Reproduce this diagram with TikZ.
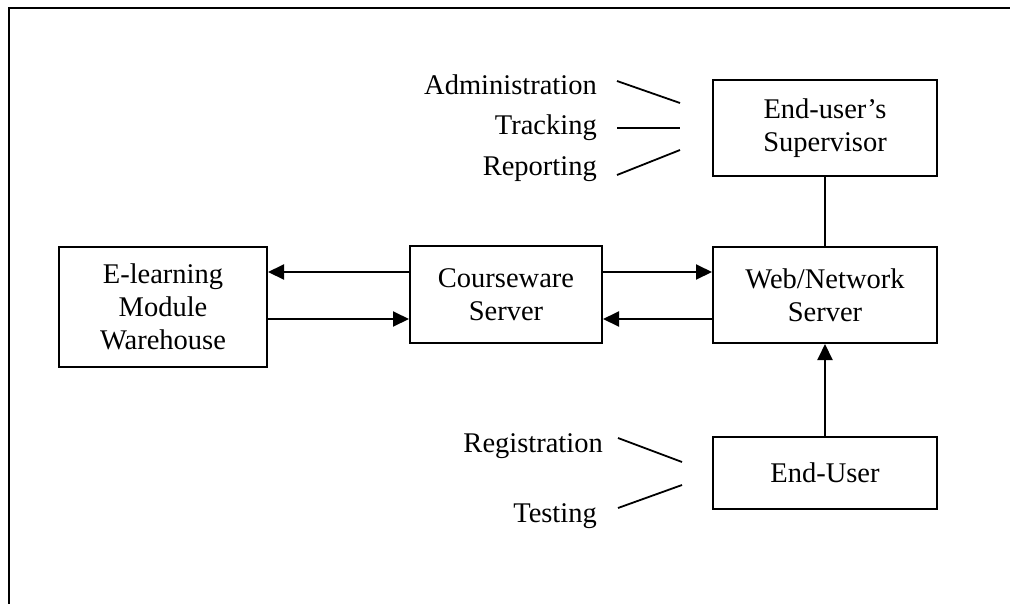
\documentclass[tikz,border=0pt]{standalone}
\usepackage{fontspec}
\setmainfont{Liberation Serif}
\usetikzlibrary{arrows.meta}
\begin{document}
\begin{tikzpicture}[x=1pt,y=-1pt,
  every node/.style={font=\fontsize{28.5}{33}\selectfont, inner sep=0pt},
  blockbox/.style={draw, line width=2pt, rectangle, align=center},
  conn/.style={line width=2pt},
  arr/.style={conn, -{Triangle[length=16pt,width=15pt]}},
  lbl/.style={anchor=base east},
  tick/.style={line width=1.8pt}]
\useasboundingbox (0,0) rectangle (1010,603);
% outer frame (right and bottom sides fall outside the page)
\draw[line width=1.8pt] (9,612) -- (9,8) -- (1020,8);

% blocks
\node[blockbox, minimum width=208pt, minimum height=120pt] (wh) at (163,307)
  {E-learning\\Module\\Warehouse};
\node[blockbox, minimum width=192pt, minimum height=97pt] (cs) at (506,294.5)
  {Courseware\\Server};
\node[blockbox, minimum width=224pt, minimum height=96pt] (web) at (825,295)
  {Web/Network\\Server};
\node[blockbox, minimum width=224pt, minimum height=96pt] (sup) at (825,128)
  {End-user's\\Supervisor};
\node[blockbox, minimum width=224pt, minimum height=72pt] (eu) at (825,473)
  {End-User};

% connectors between blocks
\coordinate (cs-w-up) at (cs.west |- 0,272);
\coordinate (cs-w-dn) at (cs.west |- 0,319);
\coordinate (cs-e-up) at (cs.east |- 0,272);
\coordinate (cs-e-dn) at (cs.east |- 0,319);
\draw[arr] (cs-w-up) -- (wh.east |- cs-w-up);
\draw[arr] (wh.east |- cs-w-dn) -- (cs-w-dn);
\draw[arr] (cs-e-up) -- (web.west |- cs-e-up);
\draw[arr] (web.west |- cs-e-dn) -- (cs-e-dn);
\draw[conn] (sup.south) -- (web.north);
\draw[arr] (eu.north) -- (web.south);

% supervisor functions
\node[lbl] (adm) at (597,94) {Administration};
\node[lbl] (trk) at (597,134) {Tracking};
\node[lbl] (rep) at (597,175) {Reporting};
\coordinate (adm-a) at (617,81);  \coordinate (adm-b) at (680,103);
\coordinate (trk-a) at (617,128); \coordinate (trk-b) at (680,128);
\coordinate (rep-a) at (617,175); \coordinate (rep-b) at (680,150);
\draw[tick] (adm-a) -- (adm-b);
\draw[tick] (trk-a) -- (trk-b);
\draw[tick] (rep-a) -- (rep-b);

% end-user functions
\node[lbl] (reg) at (603,452) {Registration};
\node[lbl] (tst) at (597,522) {Testing};
\coordinate (reg-a) at (618,438); \coordinate (reg-b) at (682,462);
\coordinate (tst-a) at (618,508); \coordinate (tst-b) at (682,485);
\draw[tick] (reg-a) -- (reg-b);
\draw[tick] (tst-a) -- (tst-b);
\end{tikzpicture}
\end{document}
